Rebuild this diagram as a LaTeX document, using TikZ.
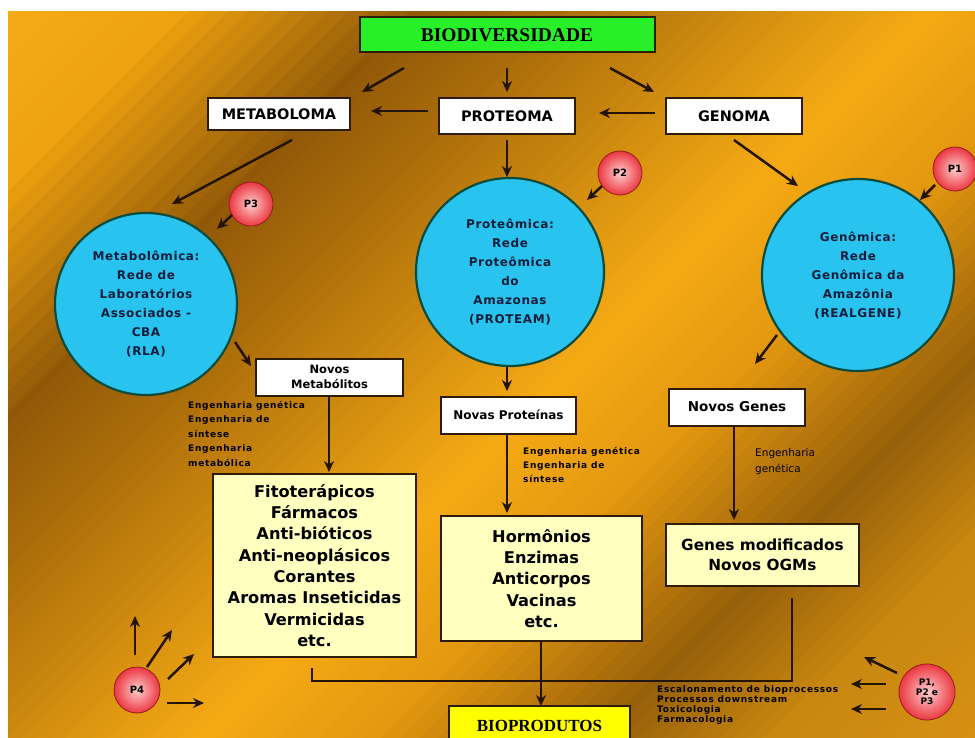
\documentclass[tikz,border=0pt]{standalone}
\usepackage{fontspec}
\setmainfont{DejaVu Sans}
\newfontfamily\lserif{Liberation Serif}
\newfontfamily\circf[LetterSpace=5]{DejaVu Sans}
\newfontfamily\tinyf[LetterSpace=8]{DejaVu Sans}
\usetikzlibrary{arrows.meta}
\definecolor{g0}{RGB}{245,172,25}
\definecolor{g1}{RGB}{238,162,15}
\definecolor{g2}{RGB}{145,88,8}
\definecolor{g3}{RGB}{170,108,10}
\definecolor{g4}{RGB}{210,142,15}
\definecolor{g5}{RGB}{245,170,20}
\definecolor{g6}{RGB}{228,152,15}
\definecolor{g7}{RGB}{150,95,10}
\definecolor{g8}{RGB}{200,135,15}
\definecolor{g9}{RGB}{215,145,20}
\definecolor{arrc}{RGB}{35,20,5}
\definecolor{boxc}{RGB}{45,28,10}
\definecolor{gfill}{RGB}{40,240,40}
\definecolor{lyel}{RGB}{255,255,192}
\definecolor{yfill}{RGB}{255,255,0}
\definecolor{cyanf}{RGB}{40,195,238}
\definecolor{circb}{RGB}{15,75,60}
\definecolor{circt}{RGB}{20,30,60}
\definecolor{pin}{RGB}{255,205,205}
\definecolor{pout}{RGB}{235,55,65}
\definecolor{pborder}{RGB}{150,30,30}
\begin{document}
\begin{tikzpicture}[x=1pt,y=-1pt,
  arr/.style={draw=arrc, line width=2.5pt, -{Stealth[length=11pt,width=10pt]}},
  lnk/.style={draw=arrc, line width=2pt},
  wbox/.style={draw=boxc, line width=2pt, fill=white, inner sep=0pt, align=center, text=black, font=\bfseries\fontsize{14.5}{16}\selectfont},
  ybox/.style={draw=boxc, line width=2pt, fill=lyel, inner sep=0pt, align=center, text=black, font=\bfseries\fontsize{16.2}{21.3}\selectfont},
  bigc/.style={circle, draw=circb, line width=2.2pt, fill=cyanf, inner sep=0pt, align=center, text=circt, font=\circf\bfseries\fontsize{12}{19}\selectfont},
  pc/.style={circle, draw=pborder, line width=0.8pt, shade, inner color=pin, outer color=pout, inner sep=0pt, minimum size=44pt, align=center, text=black, font=\bfseries\fontsize{10}{10}\selectfont},
  note/.style={font=\tinyf\bfseries\fontsize{9}{14.5}\selectfont, align=left, inner sep=0pt, anchor=north west, text=black},
]
\useasboundingbox (0,0) rectangle (975,738);
\fill[white] (0,0) rectangle (975,738);
% background
\begin{scope}
\clip (8,12) rectangle (975,738);
\foreach \sa/\sb/\ca/\cb in {0/180/g0/g1, 180/420/g1/g2, 420/560/g2/g3, 560/760/g3/g4, 760/930/g4/g5, 930/1100/g5/g6, 1100/1330/g6/g7, 1330/1500/g7/g8, 1500/1720/g8/g9}{
  \foreach \k in {0,...,11}{
    \pgfmathsetmacro\pa{\sa+(\sb-\sa)*\k/12}
    \pgfmathsetmacro\pb{\sa+(\sb-\sa)*(\k+1)/12+1.5}
    \pgfmathtruncatemacro\pc{100*\k/12}
    \fill[color=\cb!\pc!\ca] (\pa,0) -- (\pb,0) -- (\pb-1000,1000) -- (\pa-1000,1000) -- cycle;
  }
}
\end{scope}

% top boxes
\node[wbox, fill=gfill, minimum width=295pt, minimum height=35pt, font=\lserif\bfseries\fontsize{19.5}{20}\selectfont] (bio) at (507,35) {BIODIVERSIDADE};
\node[wbox, minimum width=142pt, minimum height=32pt] (meta) at (279,114) {METABOLOMA};
\node[wbox, minimum width=136pt, minimum height=36pt] (prot) at (507,116) {PROTEOMA};
\node[wbox, minimum width=136pt, minimum height=36pt] (gen) at (734,116) {GENOMA};

% circles
\node[bigc, minimum size=182pt] (cmeta) at (146,304) {Metabolômica:\\Rede de\\Laboratórios\\Associados -\\CBA\\(RLA)};
\node[bigc, minimum size=188pt] (cprot) at (510,272) {Proteômica:\\Rede\\Proteômica\\do\\Amazonas\\(PROTEAM)};
\node[bigc, minimum size=192pt] (cgen) at (858,275) {Genômica:\\Rede\\Genômica da\\Amazônia\\(REALGENE)};

% P circles
\node[pc] (p3) at (251,204) {P3};
\node[pc] (p2) at (620,173) {P2};
\node[pc] (p1) at (955,169) {P1};
\node[pc, minimum size=46pt] (p4) at (137,690) {P4};
\node[pc, minimum size=56pt, font=\bfseries\fontsize{9}{9.5}\selectfont] (p123) at (927,692) {P1,\\P2 e\\P3};

% second row boxes
\node[wbox, minimum width=147pt, minimum height=37pt, font=\bfseries\fontsize{11.5}{15}\selectfont] (nmet) at (329.5,377) {Novos\\Metabólitos};
\node[wbox, minimum width=135pt, minimum height=37pt, font=\bfseries\fontsize{12}{14}\selectfont] (nprot) at (508.5,415) {Novas Proteínas};
\node[wbox, minimum width=136pt, minimum height=37pt, font=\bfseries\fontsize{13.5}{15}\selectfont] (ngen) at (737,407) {Novos Genes};

% yellow boxes
\node[ybox, minimum width=203pt, minimum height=183pt] (fito) at (314.5,565.5) {Fitoterápicos\\Fármacos\\Anti-bióticos\\Anti-neoplásicos\\Corantes\\Aromas Inseticidas\\Vermicidas\\etc.};
\node[ybox, minimum width=201pt, minimum height=125pt] (horm) at (541.5,578.5) {Hormônios\\Enzimas\\Anticorpos\\Vacinas\\etc.};
\node[ybox, minimum width=193pt, minimum height=62pt, font=\bfseries\fontsize{15.3}{20}\selectfont] (genes) at (762.5,555) {Genes modificados\\Novos OGMs};
\node[wbox, fill=yfill, minimum width=181pt, minimum height=40pt, font=\lserif\bfseries\fontsize{17}{18}\selectfont] (bioprod) at (539.5,726) {BIOPRODUTOS};

% notes
\node[note] (t1) at (188,401) {Engenharia genética\\Engenharia de\\síntese\\Engenharia\\metabólica};
\node[note, font=\tinyf\bfseries\fontsize{9}{14}\selectfont] (t2) at (523,447) {Engenharia genética\\Engenharia de\\síntese};
\node[note, font=\fontsize{10.5}{16}\selectfont] (t3) at (755,448) {Engenharia\\genética};
\node[note, font=\tinyf\bfseries\fontsize{9}{10}\selectfont] (t4) at (657,685) {Escalonamento de bioprocessos\\Processos downstream\\Toxicologia\\Farmacologia};

% arrow end points
\coordinate (a1s) at (404,68); \coordinate (a1e) at (362,92);
\coordinate (a2s) at (507,68); \coordinate (a2e) at (507,92);
\coordinate (a3s) at (610,68); \coordinate (a3e) at (654,92);
\coordinate (a4s) at (428,111); \coordinate (a4e) at (371,111);
\coordinate (a5s) at (655,113); \coordinate (a5e) at (599,113);
\coordinate (a6s) at (507,140); \coordinate (a6e) at (507,177);
\coordinate (a7s) at (292,140); \coordinate (a7e) at (172,204);
\coordinate (a8s) at (734,140); \coordinate (a8e) at (798,186);
\coordinate (a9s) at (232,215); \coordinate (a9e) at (217,229);
\coordinate (a10s) at (602,186); \coordinate (a10e) at (587,200);
\coordinate (a11s) at (935,185); \coordinate (a11e) at (920,200);
\coordinate (a12s) at (235,342); \coordinate (a12e) at (251,366);
\coordinate (a13s) at (507,367); \coordinate (a13e) at (507,391);
\coordinate (a14s) at (777,335); \coordinate (a14e) at (755,364);
\coordinate (a15s) at (329,396); \coordinate (a15e) at (329,472);
\coordinate (a16s) at (507,434); \coordinate (a16e) at (507,513);
\coordinate (a17s) at (734,426); \coordinate (a17e) at (734,520);
\coordinate (a18s) at (541,641); \coordinate (a18e) at (541,706);
\coordinate (j1) at (312,668); \coordinate (j2) at (312,681);
\coordinate (j3) at (792,681); \coordinate (j4) at (792,598);
% P4 arrows
\coordinate (b1s) at (135,655); \coordinate (b1e) at (135,616);
\coordinate (b2s) at (147,667); \coordinate (b2e) at (172,630);
\coordinate (b3s) at (168,679); \coordinate (b3e) at (194,654);
\coordinate (b4s) at (167,703); \coordinate (b4e) at (204,703);
% P123 arrows
\coordinate (c1s) at (897,673); \coordinate (c1e) at (864,657);
\coordinate (c2s) at (886,684); \coordinate (c2e) at (851,684);
\coordinate (c3s) at (886,709); \coordinate (c3e) at (851,709);

\foreach \n in {1,...,18}{\draw[arr] (a\n s) -- (a\n e);}
\foreach \n in {1,...,4}{\draw[arr] (b\n s) -- (b\n e);}
\foreach \n in {1,...,3}{\draw[arr] (c\n s) -- (c\n e);}
\draw[lnk] (j1) -- (j2) -- (j3) -- (j4);
\end{tikzpicture}
\end{document}
